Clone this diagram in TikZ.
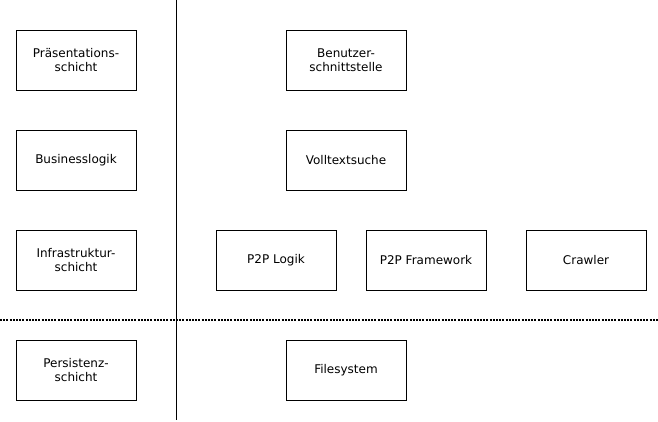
\documentclass[tikz,border=0pt]{standalone}
\usepackage{fontspec}
\setmainfont{DejaVu Sans}
\usetikzlibrary{positioning}
\tikzset{
    layer/.style={draw, line width=0.8pt, minimum width=120pt, minimum height=60pt, align=center, font=\fontsize{12}{14}\selectfont, inner sep=0pt},
}
\begin{document}
\begin{tikzpicture}[x=1pt, y=-1pt]
    \useasboundingbox (0,0) rectangle (658,422);

    \node[layer] (praes) at (76,60) {Präsentations-\\schicht};
    \node[layer] (busi) at (76,160) {Businesslogik};
    \node[layer] (infra) at (76,260) {Infrastruktur-\\schicht};
    \node[layer] (pers) at (76,370) {Persistenz-\\schicht};

    \node[layer] (gui) at (346,60) {Benutzer-\\schnittstelle};
    \node[layer] (suche) at (346,160) {Volltextsuche};
    \node[layer] (logik) at (276,260) {P2P Logik};
    \node[layer] (frame) at (426,260) {P2P Framework};
    \node[layer] (crawl) at (586,260) {Crawler};
    \node[layer] (fs) at (346,370) {Filesystem};

    \coordinate (top) at (176,0);
    \coordinate (bottom) at (176,420);
    \coordinate (left) at (0,320);
    \coordinate (right) at (658,320);

    \draw[line width=0.8pt] (top) -- (bottom);
    \draw[line width=2pt, dash pattern=on 2pt off 1.2pt] (left) -- (right);
\end{tikzpicture}
\end{document}
